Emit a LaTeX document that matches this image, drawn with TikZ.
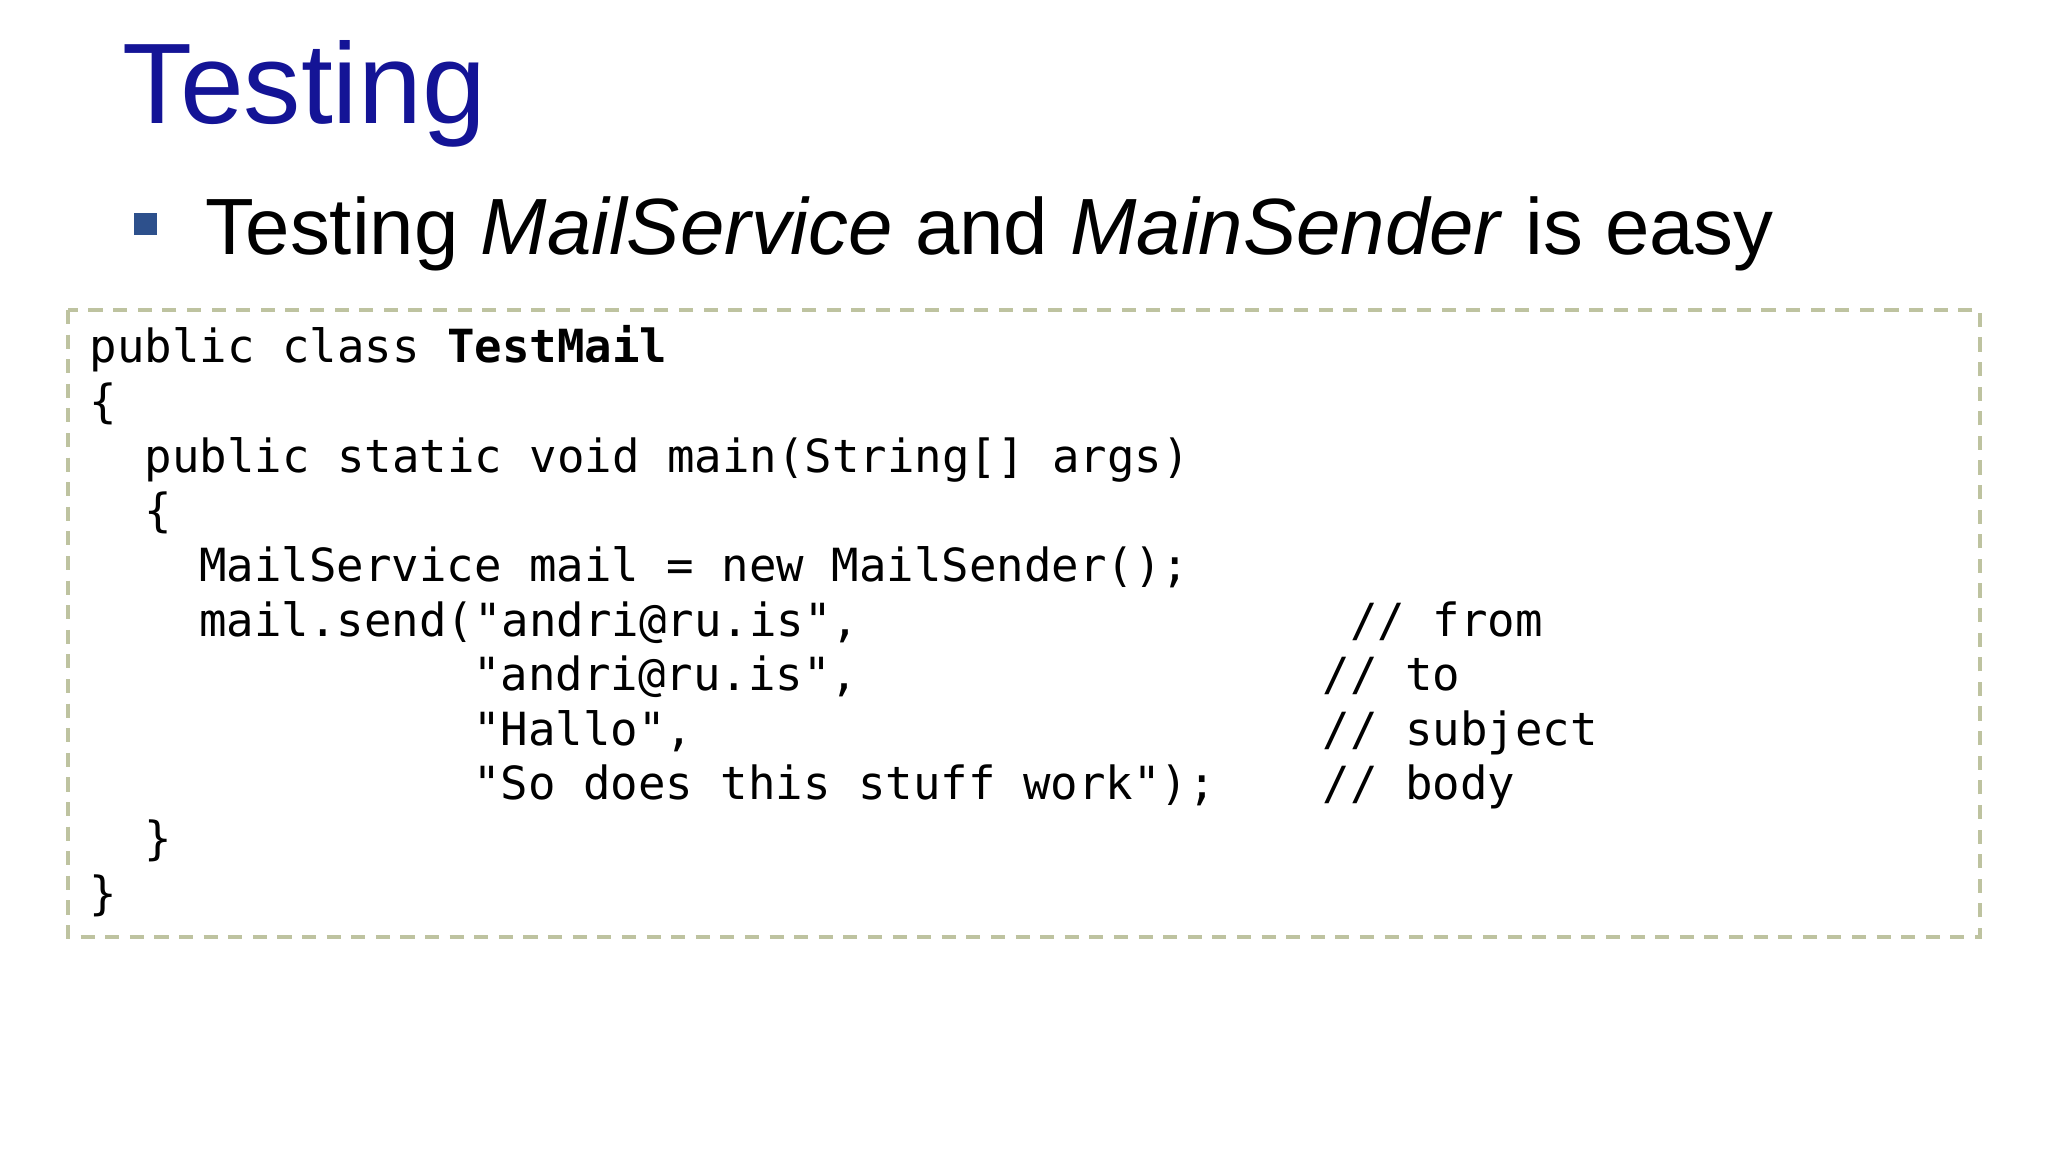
\documentclass[tikz,border=0pt]{standalone}
\usepackage{fontspec}
\setmainfont{Liberation Sans}
\setmonofont{DejaVu Sans Mono}
\definecolor{titleblue}{RGB}{20,20,150}
\definecolor{bulletblue}{RGB}{45,80,140}
\definecolor{boxline}{RGB}{190,195,160}
\begin{document}
\begin{tikzpicture}[x=1cm,y=-1cm,
  code/.style={anchor=base west,inner sep=0pt,font=\fontsize{13pt}{15pt}\ttfamily}]
\useasboundingbox (0,0) rectangle (20.48,11.52);
\fill[white] (0,0) rectangle (20.48,11.52);
\node[anchor=base west,inner sep=0pt,text=titleblue,font=\fontsize{32.6pt}{38pt}\selectfont] (title) at (1.22,1.24) {Testing};
\fill[bulletblue] (1.34,2.13) rectangle (1.57,2.35);
\node[anchor=base west,inner sep=0pt,font=\fontsize{22.7pt}{28pt}\selectfont] (bullet) at (2.05,2.55) {Testing \textit{MailService} and \textit{MainSender} is easy};
\draw[boxline,line width=1pt,dash pattern=on 4pt off 3pt] (0.68,3.10) rectangle (19.80,9.37);
\def\cx#1{0.89+#1*0.274}
\def\ly#1{3.63+#1*0.546}
\node[code] (l1) at ({\cx{0}},{\ly{0}}) {public class \textbf{TestMail}};
\node[code] (l2) at ({\cx{0}},{\ly{1}}) {\{};
\node[code] (l3) at ({\cx{2}},{\ly{2}}) {public static void main(String[] args)};
\node[code] (l4) at ({\cx{2}},{\ly{3}}) {\{};
\node[code] (l5) at ({\cx{4}},{\ly{4}}) {MailService mail = new MailSender();};
\node[code] (l6) at ({\cx{4}},{\ly{5}}) {mail.send("andri@ru.is",};
\node[code] (c6) at ({\cx{46}},{\ly{5}}) {// from};
\node[code] (l7) at ({\cx{14}},{\ly{6}}) {"andri@ru.is",};
\node[code] (c7) at ({\cx{45}},{\ly{6}}) {// to};
\node[code] (l8) at ({\cx{14}},{\ly{7}}) {"Hallo",};
\node[code] (c8) at ({\cx{45}},{\ly{7}}) {// subject};
\node[code] (l9) at ({\cx{14}},{\ly{8}}) {"So does this stuff work");};
\node[code] (c9) at ({\cx{45}},{\ly{8}}) {// body};
\node[code] (l10) at ({\cx{2}},{\ly{9}}) {\}};
\node[code] (l11) at ({\cx{0}},{\ly{10}}) {\}};
\end{tikzpicture}
\end{document}
